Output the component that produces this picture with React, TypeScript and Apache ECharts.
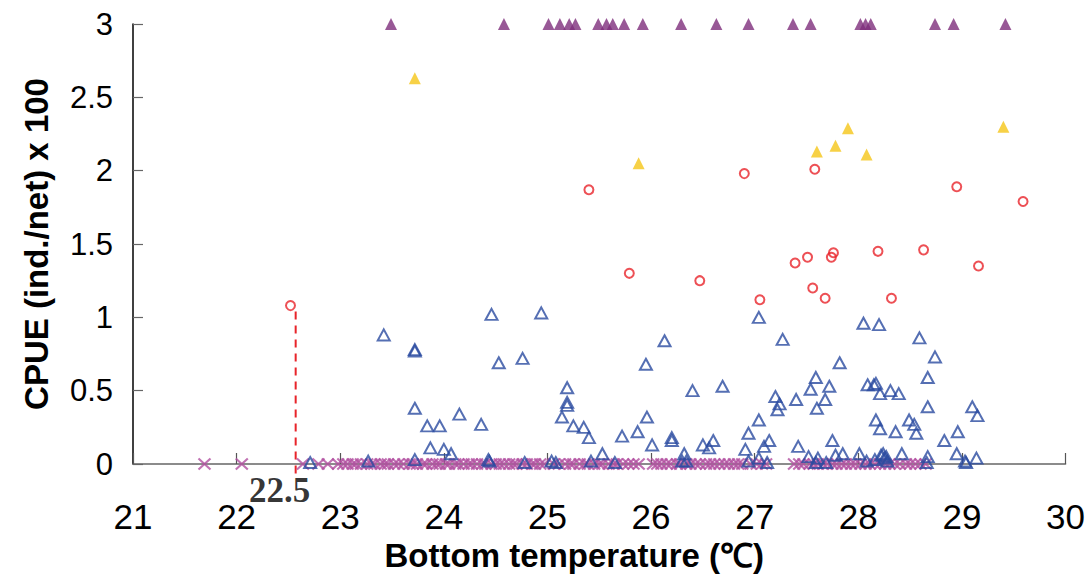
import React, { useEffect, useRef } from "react";
import * as echarts from "echarts";

// ---------- data ----------
const purpleTop: number[][] = [
  [23.49, 3], [24.58, 3], [25.01, 3], [25.12, 3], [25.21, 3], [25.27, 3], [25.49, 3], [25.57, 3],
  [25.63, 3], [25.74, 3], [25.92, 3], [26.29, 3], [26.63, 3], [26.94, 3], [27.37, 3], [27.54, 3],
  [28.02, 3], [28.07, 3], [28.12, 3], [28.74, 3], [28.92, 3], [29.42, 3],
];

const yellowTri: number[][] = [
  [23.72, 2.63], [25.88, 2.05], [27.6, 2.13], [27.78, 2.17], [27.9, 2.29], [28.08, 2.11], [29.4, 2.3],
];

const redCircles: number[][] = [
  [22.52, 1.08], [25.4, 1.87], [26.9, 1.98], [27.58, 2.01], [28.95, 1.89], [29.59, 1.79],
  [25.79, 1.3], [26.47, 1.25], [27.05, 1.12], [27.39, 1.37], [27.51, 1.41], [27.74, 1.41],
  [27.76, 1.44], [27.56, 1.2], [27.68, 1.13], [28.19, 1.45], [28.32, 1.13], [28.63, 1.46],
  [29.16, 1.35],
];

const blueTri: number[][] = [
  [23.42, 0.88], [23.72, 0.78], [23.72, 0.77], [24.46, 1.02], [24.94, 1.03], [24.53, 0.69],
  [24.76, 0.72], [26.13, 0.84], [25.95, 0.68], [26.4, 0.5], [25.19, 0.52], [25.19, 0.42],
  [25.19, 0.4], [25.14, 0.32], [25.25, 0.26], [25.35, 0.25], [25.4, 0.18], [25.72, 0.19],
  [25.87, 0.22], [25.96, 0.32], [26.01, 0.13], [26.2, 0.18], [26.2, 0.16], [26.32, 0.07],
  [26.34, 0.02], [25.53, 0.07], [25.42, 0.02], [25.65, 0.01], [23.72, 0.38], [23.84, 0.26],
  [23.96, 0.26], [24.15, 0.34], [24.36, 0.27], [23.87, 0.11], [24.0, 0.1], [24.07, 0.07],
  [22.71, 0.01], [23.27, 0.02], [23.72, 0.03], [24.43, 0.03], [24.44, 0.02], [24.78, 0.01],
  [25.04, 0.02], [25.08, 0.01], [26.3, 0.02],
  [27.04, 1.0], [26.69, 0.53], [27.27, 0.85], [28.05, 0.96], [28.2, 0.95], [28.59, 0.86],
  [28.74, 0.73], [27.82, 0.69], [27.59, 0.59], [27.54, 0.51], [27.72, 0.53], [28.67, 0.59],
  [28.09, 0.54], [28.15, 0.54], [28.17, 0.55], [28.21, 0.48], [28.31, 0.5], [28.39, 0.48],
  [27.2, 0.46], [27.24, 0.41], [27.22, 0.37], [27.4, 0.44], [27.68, 0.44], [27.6, 0.38],
  [28.67, 0.39], [29.1, 0.39], [29.15, 0.33], [27.04, 0.3], [26.94, 0.21], [26.6, 0.16],
  [26.5, 0.13], [26.56, 0.11], [26.91, 0.1], [27.09, 0.12], [27.14, 0.16], [27.04, 0.04],
  [26.94, 0.02], [27.12, 0.01], [27.42, 0.12], [27.75, 0.16], [27.52, 0.05], [27.61, 0.04],
  [27.59, 0.01], [27.69, 0.01], [27.78, 0.06], [27.85, 0.07], [28.17, 0.3], [28.21, 0.24],
  [28.36, 0.22], [28.49, 0.3], [28.54, 0.27], [28.56, 0.21], [28.83, 0.16], [28.96, 0.22],
  [28.95, 0.07], [29.03, 0.02], [29.04, 0.01], [29.14, 0.04], [28.67, 0.05], [28.66, 0.01],
  [28.42, 0.07], [28.22, 0.06], [28.25, 0.04], [28.28, 0.02], [28.16, 0.03], [28.08, 0.02],
  [28.01, 0.07], [28.24, 0.07], [28.27, 0.05],
];

const zeroCatchTemps: number[] = [
  21.69, 22.05, 22.64, 22.79, 22.88,
  22.98, 23.03, 23.07, 23.12, 23.15, 23.2, 23.26, 23.3, 23.33, 23.39, 23.43, 23.46, 23.52,
  23.56, 23.61, 23.67, 23.7, 23.74, 23.8, 23.83, 23.89, 23.93, 23.96, 24.02, 24.05, 24.11,
  24.14, 24.19, 24.24, 24.27, 24.32, 24.37, 24.4, 24.46, 24.5, 24.54, 24.58, 24.63, 24.67,
  24.7, 24.76, 24.8, 24.85, 24.88, 24.93, 24.97, 25.06, 25.11, 25.17, 25.22, 25.25, 25.31,
  25.36, 25.39, 25.45, 25.5, 25.53, 25.59, 25.64, 25.67, 25.73, 25.78, 25.83, 25.88,
  26.02, 26.06, 26.1, 26.15, 26.19, 26.25, 26.28, 26.34, 26.38, 26.43, 26.47, 26.53, 26.57,
  26.61, 26.66, 26.71, 26.75, 26.8, 26.84, 26.88,
  26.96, 27.02, 27.07, 27.11,
  27.38, 27.43, 27.47, 27.53, 27.57, 27.61, 27.66, 27.7, 27.75, 27.79, 27.84, 27.88, 27.93,
  27.97, 28.02, 28.07, 28.11, 28.16, 28.21, 28.26, 28.3, 28.35, 28.4, 28.46, 28.5, 28.55,
  28.6, 28.65,
];
const zeroCatch: number[][] = zeroCatchTemps.map((t) => [t, 0]);

const thresholdLine: number[][] = [[22.57, 1.04], [22.57, -0.1]];
const thresholdLabel = "22.5";

const xTicks = { min: 21, max: 30, interval: 1 };
const yTicks = { min: 0, max: 3, interval: 0.5 };

const xName = "Bottom temperature (℃)";
const yName = "CPUE (ind./net) x 100";

export default function App() {
  const ref = useRef<HTMLDivElement>(null);

  useEffect(() => {
    if (!ref.current) return;
    const chart = echarts.init(ref.current, undefined, { renderer: "svg" });
    const sans = "'Liberation Sans', Arial, sans-serif";
    chart.setOption({
      animation: false,
      backgroundColor: "#ffffff",
      grid: { left: 133, right: 22, top: 24, bottom: 121, containLabel: false },
      xAxis: {
        type: "value",
        min: xTicks.min,
        max: xTicks.max,
        interval: xTicks.interval,
        name: xName,
        nameLocation: "middle",
        nameGap: 73,
        nameTextStyle: {
          fontFamily: sans,
          fontWeight: "bold",
          fontSize: 33,
          color: "#000",
          padding: [0, 50, 0, 0],
        },
        axisLine: { show: true, onZero: false, lineStyle: { color: "#666", width: 1.5 } },
        axisTick: { show: true, inside: true, length: 11, lineStyle: { color: "#555", width: 1.2 } },
        axisLabel: { fontFamily: sans, fontSize: 35, color: "#000", margin: 35 },
        splitLine: { show: false },
      },
      yAxis: {
        type: "value",
        min: yTicks.min,
        max: yTicks.max,
        interval: yTicks.interval,
        name: yName,
        nameLocation: "middle",
        nameGap: 80,
        nameTextStyle: { fontFamily: sans, fontWeight: "bold", fontSize: 33, color: "#000" },
        axisLine: { show: true, lineStyle: { color: "#000", width: 1.5 } },
        axisTick: { show: true, inside: true, length: 10, lineStyle: { color: "#666", width: 1.2 } },
        axisLabel: { fontFamily: sans, fontSize: 31, color: "#000", margin: 20 },
        splitLine: { show: false },
      },
      series: [
        {
          type: "line",
          data: thresholdLine,
          symbol: "none",
          clip: false,
          z: 1,
          lineStyle: { color: "#E8242A", width: 2, type: [8, 6] },
        },
        {
          type: "scatter",
          data: [thresholdLine[1]],
          symbol: "circle",
          symbolSize: 1,
          clip: false,
          itemStyle: { color: "rgba(0,0,0,0)" },
          label: {
            show: true,
            formatter: thresholdLabel,
            position: "bottom",
            distance: 0,
            offset: [-16, -6],
            fontFamily: "'Liberation Serif', 'Times New Roman', serif",
            fontWeight: "bold",
            fontSize: 35,
            color: "#000",
          },
        },
        {
          type: "scatter",
          data: zeroCatch,
          symbol: "path://M0,0L10,10M10,0L0,10",
          symbolSize: [12, 11],
          clip: false,
          itemStyle: { color: "rgba(0,0,0,0)", borderColor: "#B24FA0", borderWidth: 2 },
        },
        {
          type: "scatter",
          data: blueTri,
          symbol: "triangle",
          symbolSize: [12, 11],
          clip: false,
          itemStyle: { color: "rgba(255,255,255,0)", borderColor: "#2B4BA0", borderWidth: 2 },
        },
        {
          type: "scatter",
          data: redCircles,
          symbol: "circle",
          symbolSize: 9,
          clip: false,
          itemStyle: { color: "rgba(255,255,255,0)", borderColor: "#E8242A", borderWidth: 2 },
        },
        {
          type: "scatter",
          data: yellowTri,
          symbol: "triangle",
          symbolSize: [12, 12],
          clip: false,
          itemStyle: { color: "#F5C518" },
        },
        {
          type: "scatter",
          data: purpleTop,
          symbol: "triangle",
          symbolSize: [12, 12],
          clip: false,
          itemStyle: { color: "#7E2E7C" },
        },
      ],
    });
    return () => chart.dispose();
  }, []);

  return (
    <div
      ref={ref}
      style={{ position: "absolute", left: 0, top: 0, width: 1088, height: 585, background: "#fff" }}
    />
  );
}
